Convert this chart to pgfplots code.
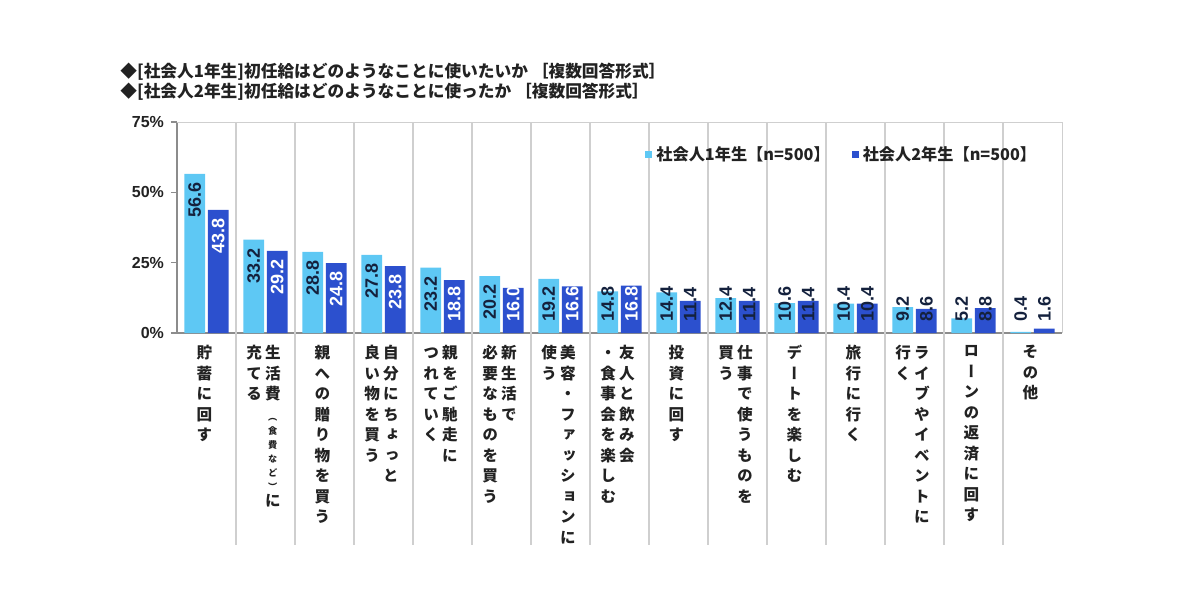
\documentclass[border=0pt]{standalone}
\usepackage{pgfplots}
\pgfplotsset{compat=1.18}
\usepackage{pgfplotstable}
\usepackage{fontspec}
\setmainfont{Noto Sans CJK JP}
\newfontfamily\tatefont{Noto Sans CJK JP}[RawFeature=+vert]
\newfontfamily\numfont{Liberation Sans}
\definecolor{c1}{HTML}{5EC8F4}
\definecolor{c2}{HTML}{2C50CE}
\definecolor{lab}{HTML}{14213D}
\definecolor{sepc}{HTML}{CFCFCF}
\definecolor{axc}{HTML}{8C8C8C}
\definecolor{txt}{HTML}{222222}

\ExplSyntaxOn
\NewDocumentCommand \tcol { O{10.25pt} m }
  {
    \vtop
      {
        \baselineskip=#1 \relax
        \lineskiplimit=0pt \lineskip=2pt \relax
        \tl_map_inline:nn {#2} { \hbox_to_wd:nn {7.8pt} { \hss ##1 \hss } }
      }
  }
\ExplSyntaxOff
\newcommand\tsm[1]{{\fontsize{4.6}{7}\selectfont\tcol[7pt]{#1}}}
\newcommand\tpair[2]{\hbox{\tcol{#2}\hspace{1.5pt}\tcol{#1}}}

\pgfplotstableread{
x a b la lb
0 56.6 43.8 41.0 28.2
1 33.2 29.2 17.6 13.6
2 28.8 24.8 13.2 9.2
3 27.8 23.8 12.2 8.2
4 23.2 18.8 7.6 3.9
5 20.2 16.0 4.6 3.9
6 19.2 16.6 3.9 3.9
7 14.8 16.8 3.9 3.9
8 14.4 11.4 3.9 3.9
9 12.4 11.4 3.9 3.9
10 10.6 11.4 3.9 3.9
11 10.4 10.4 3.9 3.9
12 9.2 8.6 3.9 3.9
13 5.2 8.8 3.9 3.9
14 0.4 1.6 3.9 3.9
}\datatable

\begin{document}
\begin{tikzpicture}
\useasboundingbox (-88.5pt,-128pt) rectangle (511.5pt,166.5pt);
\node[anchor=west, inner sep=0pt, text=txt, font=\bfseries\fontsize{8.35}{10}\selectfont] at (-28.5pt,130.5pt) {◆[社会人1年生]初任給はどのようなことに使いたいか\ ［複数回答形式］};
\node[anchor=west, inner sep=0pt, text=txt, font=\bfseries\fontsize{8.35}{10}\selectfont] at (-28.5pt,120.5pt) {◆[社会人2年生]初任給はどのようなことに使ったか\ ［複数回答形式］};
\begin{axis}[
  at={(0,0)}, anchor=south west,
  scale only axis, width=442.5pt, height=105.5pt,
  xmin=-0.5, xmax=14.5, ymin=0, ymax=75,
  clip=false,
  axis x line*=bottom, axis y line*=left,
  axis line style={draw=axc, line width=0.6pt},
  xtick={0,...,14},
  xtick style={draw=none},
  xticklabels={
    {\tcol{貯蓄に回す}},
    {\tpair{生活費{\tsm{︵食費など︶}}に}{充てる}},
    {\tcol{親への贈り物を買う}},
    {\tpair{自分にちょっと}{良い物を買う}},
    {\tpair{親をご馳走に}{つれていく}},
    {\tpair{新生活で}{必要なものを買う}},
    {\tpair{美容・ファッションに}{使う}},
    {\tpair{友人と飲み会}{・食事会を楽しむ}},
    {\tcol{投資に回す}},
    {\tpair{仕事で使うものを}{買う}},
    {\tcol{デートを楽しむ}},
    {\tcol{旅行に行く}},
    {\tpair{ライブやイベントに}{行く}},
    {\tcol{ローンの返済に回す}},
    {\tcol{その他}}
  },
  xticklabel style={font=\tatefont\bfseries\fontsize{7.8}{10.25}\selectfont, anchor=north, inner sep=0pt, text=txt, yshift=-3pt, xshift=-1pt},
  ytick={0,25,50,75},
  yticklabels={0\%,25\%,50\%,75\%},
  yticklabel style={font=\numfont\bfseries\fontsize{8}{9}\selectfont, text=txt},
  tick align=outside, major tick length=3pt,
  ytick style={draw=axc, line width=0.6pt},
  legend style={draw=none, fill=none, font=\bfseries\fontsize{8.1}{9}\selectfont, text=txt,
    at={(0.522,0.844)}, anchor=west, legend columns=2,
    /tikz/every even column/.append style={column sep=9pt}},
  legend image code/.code={\path[#1, draw=none] (0pt,-1.75pt) rectangle (3.5pt,1.75pt);},
]
\draw[sepc, line width=0.5pt] (rel axis cs:0,1) -- (rel axis cs:1,1) -- (rel axis cs:1,0);
\pgfplotsinvokeforeach{0.5,1.5,2.5,3.5,4.5,5.5,6.5,7.5,8.5,9.5,10.5,11.5,12.5,13.5}{
  \draw[sepc, line width=1.1pt] (axis cs:#1,75) -- (axis cs:#1,0) -- ++(0pt,-106pt);
}
\addplot[ybar, bar width=0.35, bar shift=-0.2, fill=c1, draw=none] table[x=x, y=a] {\datatable};
\addlegendentry{社会人1年生【n=500】}
\addplot[ybar, bar width=0.35, bar shift=0.2, fill=c2, draw=none] table[x=x, y=b] {\datatable};
\addlegendentry{社会人2年生【n=500】}
% value labels
\addplot[draw=none, mark=none, forget plot, nodes near coords, point meta=explicit symbolic,
  nodes near coords align={anchor=west},
  nodes near coords style={rotate=90, anchor=west, inner sep=0pt, text=lab, font=\numfont\bfseries\fontsize{9}{10}\selectfont}]
  table[x expr=\thisrow{x}-0.2, y=la, meta=a] {\datatable};
\addplot[draw=none, mark=none, forget plot, nodes near coords, point meta=explicit symbolic,
  skip coords between index={8}{15},
  nodes near coords align={anchor=west},
  nodes near coords style={rotate=90, anchor=west, inner sep=0pt, text=white, font=\numfont\bfseries\fontsize{9}{10}\selectfont}]
  table[x expr=\thisrow{x}+0.2, y=lb, meta=b] {\datatable};
\addplot[draw=none, mark=none, forget plot, nodes near coords, point meta=explicit symbolic,
  skip coords between index={0}{8},
  nodes near coords align={anchor=west},
  nodes near coords style={rotate=90, anchor=west, inner sep=0pt, text=lab, font=\numfont\bfseries\fontsize{9}{10}\selectfont}]
  table[x expr=\thisrow{x}+0.2, y=lb, meta=b] {\datatable};
\end{axis}
\end{tikzpicture}
\end{document}
